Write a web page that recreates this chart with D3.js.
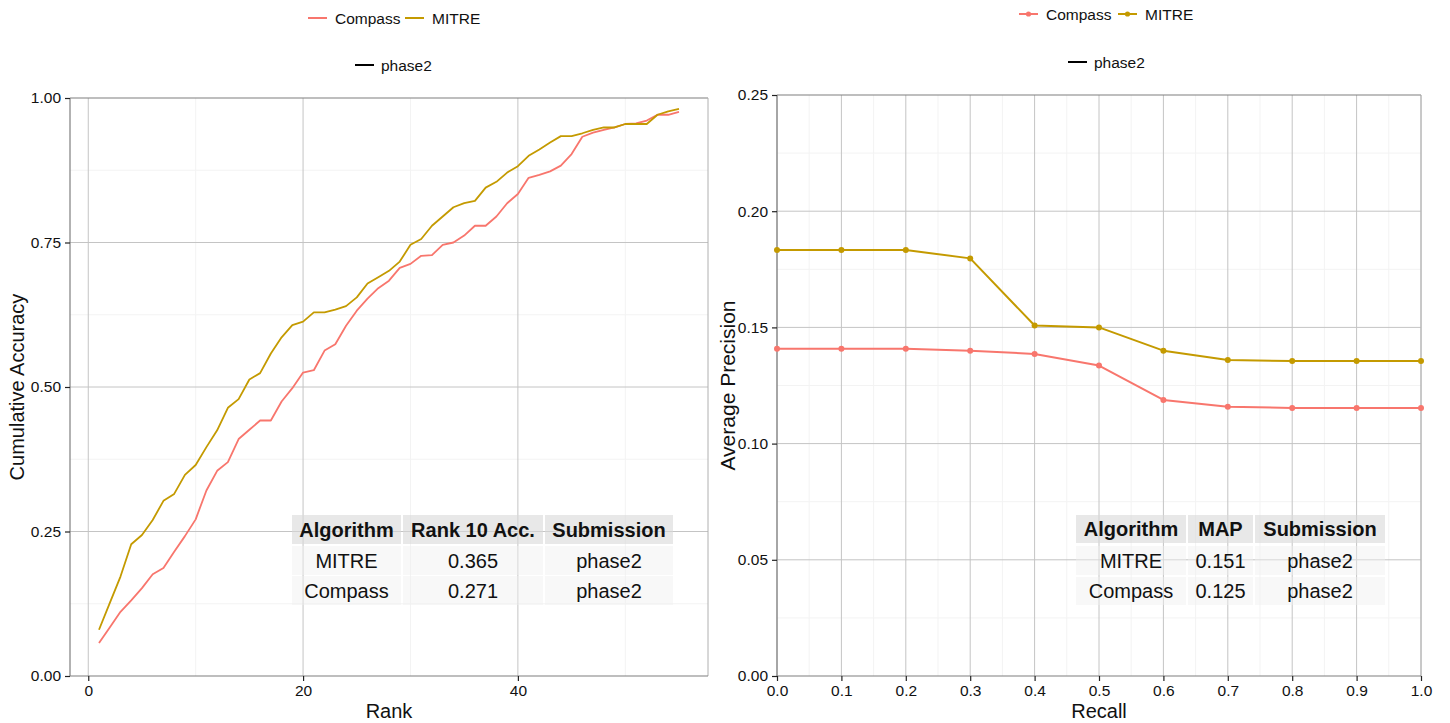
<!DOCTYPE html>
<html>
<head>
<meta charset="utf-8">
<script src="https://d3js.org/d3.v7.min.js"></script>
<style>
  body { margin: 0; background: #fff; }
  svg { font-family: "Liberation Sans", Arial, sans-serif; }
</style>
</head>
<body>
<svg id="chart" width="1450" height="723"></svg>
<script>
// ---- data ----
var ranks = d3.range(1, 56);
var mitreAcc = [0.080, 0.126, 0.172, 0.228, 0.244, 0.270, 0.303, 0.315, 0.348, 0.365,
                0.396, 0.425, 0.464, 0.479, 0.513, 0.524, 0.558, 0.586, 0.607, 0.613,
                0.629, 0.629, 0.634, 0.640, 0.655, 0.679, 0.690, 0.701, 0.717, 0.746,
                0.756, 0.779, 0.795, 0.811, 0.818, 0.822, 0.845, 0.855, 0.871, 0.882,
                0.900, 0.911, 0.923, 0.934, 0.934, 0.939, 0.945, 0.949, 0.949, 0.955,
                0.955, 0.955, 0.971, 0.977, 0.981];
var compassAcc = [0.057, 0.084, 0.111, 0.131, 0.152, 0.176, 0.187, 0.215, 0.242, 0.271,
                  0.321, 0.355, 0.370, 0.410, 0.426, 0.442, 0.442, 0.475, 0.498, 0.525,
                  0.529, 0.563, 0.574, 0.606, 0.632, 0.653, 0.671, 0.684, 0.706, 0.713,
                  0.727, 0.728, 0.746, 0.750, 0.762, 0.779, 0.779, 0.795, 0.818, 0.834,
                  0.862, 0.867, 0.873, 0.883, 0.903, 0.933, 0.940, 0.945, 0.949, 0.955,
                  0.956, 0.961, 0.971, 0.971, 0.976];

var recall = [0.0, 0.1, 0.2, 0.3, 0.4, 0.5, 0.6, 0.7, 0.8, 0.9, 1.0];
var mitrePrec = [0.1833, 0.1833, 0.1833, 0.1797, 0.1508, 0.1500, 0.1400, 0.1360, 0.1355, 0.1355, 0.1355];
var compassPrec = [0.1408, 0.1408, 0.1408, 0.1400, 0.1386, 0.1336, 0.1188, 0.1159, 0.1153, 0.1153, 0.1153];

var leftTable = [["Algorithm", "Rank 10 Acc.", "Submission"],
                 ["MITRE", "0.365", "phase2"],
                 ["Compass", "0.271", "phase2"]];
var rightTable = [["Algorithm", "MAP", "Submission"],
                  ["MITRE", "0.151", "phase2"],
                  ["Compass", "0.125", "phase2"]];

var seriesNames = ["Compass", "MITRE"];
var colors = { Compass: "#F8766D", MITRE: "#C49A00" };

var svg = d3.select("#chart");

function drawPanel(o) {
  var g = svg.append("g");
  var x = d3.scaleLinear().domain(o.xDomain).range([o.left, o.right]);
  var y = d3.scaleLinear().domain(o.yDomain).range([o.bottom, o.top]);

  // minor grid
  g.selectAll(".mx").data(o.xMinor).enter().append("line")
    .attr("x1", d => x(d)).attr("x2", d => x(d))
    .attr("y1", o.top).attr("y2", o.bottom)
    .attr("stroke", "#f3f3f3").attr("stroke-width", 1);
  g.selectAll(".my").data(o.yMinor).enter().append("line")
    .attr("x1", o.left).attr("x2", o.right)
    .attr("y1", d => y(d)).attr("y2", d => y(d))
    .attr("stroke", "#f3f3f3").attr("stroke-width", 1);
  // major grid
  g.selectAll(".gx").data(o.xTicks).enter().append("line")
    .attr("x1", d => x(d)).attr("x2", d => x(d))
    .attr("y1", o.top).attr("y2", o.bottom)
    .attr("stroke", "#c4c4c4").attr("stroke-width", 1);
  g.selectAll(".gy").data(o.yTicks).enter().append("line")
    .attr("x1", o.left).attr("x2", o.right)
    .attr("y1", d => y(d)).attr("y2", d => y(d))
    .attr("stroke", "#c4c4c4").attr("stroke-width", 1);

  // panel border
  g.append("line").attr("x1", o.left).attr("x2", o.right).attr("y1", o.top).attr("y2", o.top)
    .attr("stroke", "#7f7f7f").attr("stroke-width", 1.2);
  g.append("line").attr("x1", o.right).attr("x2", o.right).attr("y1", o.top).attr("y2", o.bottom)
    .attr("stroke", "#b0b0b0").attr("stroke-width", 1);

  // axes
  var xAxis = d3.axisBottom(x).tickValues(o.xTicks).tickFormat(o.xFormat).tickSize(5).tickPadding(4);
  var yAxis = d3.axisLeft(y).tickValues(o.yAxisTicks).tickFormat(d3.format(".2f")).tickSize(5).tickPadding(4);
  var gx = g.append("g").attr("transform", "translate(0," + o.bottom + ")").call(xAxis);
  var gy = g.append("g").attr("transform", "translate(" + o.left + ",0)").call(yAxis);
  [gx, gy].forEach(function (a) {
    a.select(".domain").attr("stroke", "#7f7f7f").attr("stroke-width", 1.2);
    a.selectAll(".tick line").attr("stroke", "#222").attr("stroke-width", 1.2);
    a.selectAll(".tick text").attr("fill", "#111").style("font-size", "15.5px");
  });
  gy.select(".domain").attr("d", "M0," + o.bottom + "V" + o.top);
  gx.select(".domain").attr("d", "M" + o.left + ",0H" + o.right);

  // axis titles
  g.append("text").attr("x", (o.left + o.right) / 2).attr("y", 718)
    .attr("text-anchor", "middle").style("font-size", "20px").attr("fill", "#111").text(o.xTitle);
  g.append("text").attr("transform", "translate(" + o.yTitleX + "," + ((o.top + o.bottom) / 2) + ") rotate(-90)")
    .attr("text-anchor", "middle").style("font-size", o.yTitleSize).attr("fill", "#111").text(o.yTitle);

  return { g: g, x: x, y: y };
}

function drawTable(g, rows, colX, rowY) {
  rows.forEach(function (row, ri) {
    row.forEach(function (cell, ci) {
      var x0 = colX[ci][0], x1 = colX[ci][1];
      var y0 = rowY[ri][0], y1 = rowY[ri][1];
      g.append("rect").attr("x", x0).attr("y", y0).attr("width", x1 - x0).attr("height", y1 - y0)
        .attr("fill", ri === 0 ? "#d9d9d9" : "#efefef")
        .attr("fill-opacity", ri === 0 ? 0.6 : 0.45);
      g.append("text").attr("x", (x0 + x1) / 2).attr("y", (y0 + y1) / 2 + 7)
        .attr("text-anchor", "middle").style("font-size", "20px")
        .style("font-weight", ri === 0 ? "bold" : "normal").attr("fill", "#111").text(cell);
    });
  });
}

function drawLegend(items, y1, y2, phaseX, points) {
  var lg = svg.append("g");
  items.forEach(function (it) {
    lg.append("line").attr("x1", it.x).attr("x2", it.x + 19).attr("y1", y1).attr("y2", y1)
      .attr("stroke", colors[it.name]).attr("stroke-width", 2);
    if (points) {
      lg.append("circle").attr("cx", it.x + 9.5).attr("cy", y1).attr("r", 2.6).attr("fill", colors[it.name]);
    }
    lg.append("text").attr("x", it.x + 27).attr("y", y1 + 5.5).style("font-size", "15.5px")
      .attr("fill", "#111").text(it.name);
  });
  lg.append("line").attr("x1", phaseX).attr("x2", phaseX + 19).attr("y1", y2).attr("y2", y2)
    .attr("stroke", "#000").attr("stroke-width", 2);
  lg.append("text").attr("x", phaseX + 26).attr("y", y2 + 5.5).style("font-size", "15.5px")
    .attr("fill", "#111").text("phase2");
}

// ---- left panel: cumulative accuracy ----
var L = drawPanel({
  left: 70, right: 708, top: 98, bottom: 676,
  xDomain: [-1.7, 57.7], yDomain: [0, 1],
  xTicks: [0, 20, 40], xMinor: [10, 30, 50],
  yTicks: [0.25, 0.5, 0.75], yMinor: [0.125, 0.375, 0.625, 0.875],
  yAxisTicks: [0, 0.25, 0.5, 0.75, 1],
  xFormat: d3.format("d"),
  xTitle: "Rank", yTitle: "Cumulative Accuracy", yTitleX: 24, yTitleSize: "20px"
});
var leftSeries = { Compass: compassAcc, MITRE: mitreAcc };
var lineL = d3.line().x((d, i) => L.x(ranks[i])).y(d => L.y(d));
seriesNames.forEach(function (n) {
  L.g.append("path").datum(leftSeries[n]).attr("d", lineL)
    .attr("fill", "none").attr("stroke", colors[n]).attr("stroke-width", 1.8)
    .attr("stroke-linejoin", "round");
});
drawTable(L.g, leftTable,
  [[292, 401], [403, 543], [545, 673]],
  [[515, 544], [546, 575], [576, 605]]);
drawLegend([{ name: "Compass", x: 308 }, { name: "MITRE", x: 405 }], 18, 65, 355, false);

// ---- right panel: precision/recall ----
var R = drawPanel({
  left: 777, right: 1421, top: 95, bottom: 676,
  xDomain: [0, 1], yDomain: [0, 0.25],
  xTicks: d3.range(0, 11).map(d => d / 10), xMinor: d3.range(0, 10).map(d => d / 10 + 0.05),
  yTicks: [0.05, 0.10, 0.15, 0.20], yMinor: [0.025, 0.075, 0.125, 0.175, 0.225],
  yAxisTicks: [0, 0.05, 0.10, 0.15, 0.20, 0.25],
  xFormat: d3.format(".1f"),
  xTitle: "Recall", yTitle: "Average Precision", yTitleX: 735, yTitleSize: "21px"
});
var rightSeries = { Compass: compassPrec, MITRE: mitrePrec };
var lineR = d3.line().x((d, i) => R.x(recall[i])).y(d => R.y(d));
seriesNames.forEach(function (n) {
  R.g.append("path").datum(rightSeries[n]).attr("d", lineR)
    .attr("fill", "none").attr("stroke", colors[n]).attr("stroke-width", 2)
    .attr("stroke-linejoin", "round");
  R.g.selectAll(".pt" + n).data(rightSeries[n]).enter().append("circle")
    .attr("cx", (d, i) => R.x(recall[i])).attr("cy", d => R.y(d))
    .attr("r", 3).attr("fill", colors[n]);
});
drawTable(R.g, rightTable,
  [[1076, 1186], [1188, 1253], [1255, 1385]],
  [[515, 543], [546, 575], [577, 605]]);
drawLegend([{ name: "Compass", x: 1019 }, { name: "MITRE", x: 1118 }], 14, 62, 1068, true);
</script>
</body>
</html>
